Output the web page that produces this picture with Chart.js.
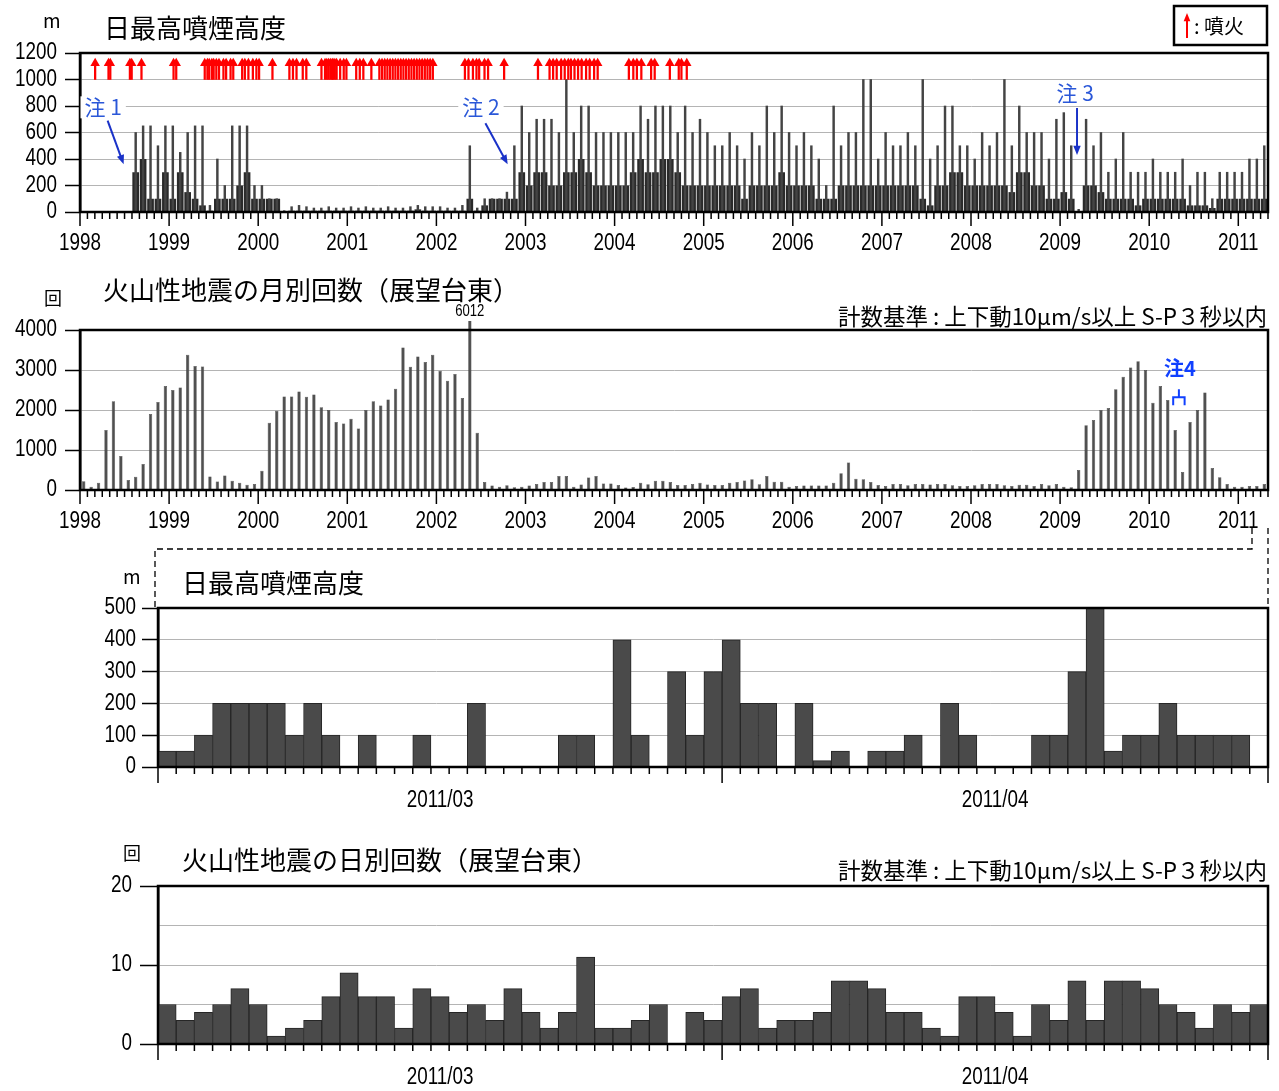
<!DOCTYPE html>
<html lang="ja">
<head>
<meta charset="UTF-8">
<title>日最高噴煙高度・火山性地震回数</title>
<script src="https://cdn.jsdelivr.net/npm/chart.js@4.4.0/dist/chart.umd.min.js"></script>
<style>
  html, body { margin: 0; padding: 0; background: #fff; }
  body { position: relative; width: 1279px; height: 1091px; overflow: hidden; }
  canvas, svg { position: absolute; left: 0; }
</style>
</head>
<body>
<canvas id="c1" width="1279" height="270" style="top:0"></canvas>
<canvas id="c2" width="1279" height="280" style="top:270px"></canvas>
<canvas id="c3" width="1279" height="280" style="top:550px"></canvas>
<canvas id="c4" width="1279" height="261" style="top:830px"></canvas>
<svg width="1279" height="1091" style="top:0;pointer-events:none">
  <g stroke="#000" stroke-width="1.3" stroke-dasharray="6 4" fill="none">
    <path d="M1252 528 V549 H155 V607"/>
    <path d="M1268 528 V607"/>
  </g>
</svg>
<script>
// ---- データ ----
const years = [1998, 1999, 2000, 2001, 2002, 2003, 2004, 2005, 2006, 2007, 2008, 2009, 2010, 2011];
const yearTicks = ['1998', '1999', '2000', '2001', '2002', '2003', '2004', '2005', '2006', '2007', '2008', '2009', '2010', '2011'];

// 日最高噴煙高度（月ごとの最大値と、密に出ている高さの目安） 1998/01〜2011/04
const plumePeak = [
  0, 0, 0, 0, 0, 0, 0, 600, 650, 650, 500, 650,
  650, 450, 600, 650, 650, 50, 400, 200, 650, 650, 650, 200,
  200, 100, 100, 10, 40, 50, 40, 30, 30, 40, 30, 30,
  40, 30, 40, 30, 30, 40, 30, 30, 40, 50, 40, 40,
  40, 30, 30, 50, 500, 30, 100, 100, 100, 150, 500, 800,
  600, 700, 700, 700, 600, 1000, 600, 800, 800, 600, 600, 600,
  600, 600, 600, 800, 700, 800, 800, 800, 600, 800, 600, 700,
  600, 500, 500, 600, 500, 400, 600, 500, 800, 600, 800, 600,
  500, 600, 500, 400, 200, 800, 500, 600, 600, 1000, 1000, 400,
  600, 500, 500, 600, 500, 1000, 400, 500, 800, 800, 500, 500,
  400, 600, 500, 600, 1000, 500, 800, 600, 600, 600, 400, 700,
  750, 500, 20, 700, 500, 600, 300, 400, 600, 300, 300, 300,
  400, 300, 300, 300, 400, 200, 300, 300, 100, 300, 300, 300,
  300, 400, 400, 500
];
const plumeBase = [
  0, 0, 0, 0, 0, 0, 0, 300, 400, 100, 100, 300,
  100, 300, 150, 100, 50, 10, 100, 100, 100, 200, 300, 100,
  100, 100, 100, 0, 10, 10, 10, 10, 10, 10, 10, 10,
  10, 10, 10, 10, 10, 10, 10, 10, 10, 20, 10, 10,
  10, 10, 10, 10, 100, 10, 50, 100, 100, 100, 100, 300,
  200, 300, 300, 200, 200, 300, 300, 400, 300, 200, 200, 200,
  200, 200, 300, 400, 300, 300, 400, 400, 300, 200, 200, 200,
  200, 200, 200, 200, 200, 100, 200, 200, 200, 200, 300, 200,
  200, 200, 200, 100, 100, 100, 200, 200, 200, 200, 200, 200,
  200, 200, 200, 200, 200, 100, 50, 200, 200, 300, 300, 200,
  200, 200, 200, 200, 200, 150, 300, 300, 200, 200, 100, 100,
  150, 100, 0, 200, 200, 150, 100, 100, 100, 100, 50, 100,
  100, 100, 100, 100, 100, 50, 50, 50, 30, 100, 100, 100,
  100, 100, 100, 100
];

// 噴火（年の小数表記）
const eruptions = [
  1998.17, 1998.32, 1998.34, 1998.56, 1998.58, 1998.69,
  1999.05, 1999.08,
  1999.40, 1999.43, 1999.45, 1999.48, 1999.50, 1999.53, 1999.56, 1999.61, 1999.64, 1999.69, 1999.72,
  1999.82, 1999.85, 1999.89, 1999.94, 1999.98, 2000.01,
  2000.16,
  2000.35, 2000.39, 2000.43, 2000.50, 2000.54,
  2000.71, 2000.75, 2000.77, 2000.79, 2000.81, 2000.83, 2000.84, 2000.86, 2000.88, 2000.92, 2000.96, 2000.99,
  2001.10, 2001.14, 2001.18, 2001.27,
  2001.36, 2001.39, 2001.42, 2001.45, 2001.48, 2001.51, 2001.54, 2001.57, 2001.60, 2001.63, 2001.66,
  2001.69, 2001.72, 2001.75, 2001.78, 2001.81, 2001.84, 2001.87, 2001.90, 2001.93, 2001.96,
  2002.32, 2002.36, 2002.41, 2002.45, 2002.48, 2002.54, 2002.58, 2002.76,
  2003.14, 2003.27, 2003.31, 2003.35, 2003.40, 2003.44, 2003.48, 2003.51, 2003.55, 2003.59, 2003.63,
  2003.68, 2003.72, 2003.77, 2003.81,
  2004.16, 2004.21, 2004.25, 2004.30, 2004.41, 2004.45, 2004.62, 2004.72, 2004.75, 2004.81
];

// 注記（年, 高さ m）
const plumeNotes = [
  { text: '注 1', x: 1998.26, y: 790, from: [1998.31, 690], to: [1998.49, 360] },
  { text: '注 2', x: 2002.50, y: 790, from: [2002.55, 670], to: [2002.80, 360] },
  { text: '注 3', x: 2009.17, y: 900, from: [2009.19, 785], to: [2009.19, 430] }
];

// 火山性地震の月別回数 1998/01〜2011/04
const quakeMonthly = [
  220, 80, 180, 1500, 2220, 850, 250, 330, 650, 1900, 2200, 2600,
  2500, 2560, 3380, 3100, 3090, 340, 210, 360, 230, 180, 130, 150,
  480, 1680, 1980, 2340, 2340, 2460, 2330, 2390, 2070, 2000, 1700, 1660,
  1780, 1540, 2000, 2220, 2110, 2260, 2530, 3560, 3080, 3340, 3200, 3380,
  2980, 2730, 2900, 2300, 6012, 1430, 200, 110, 80, 120, 70, 80,
  110, 150, 200, 200, 350, 350, 80, 140, 310, 350, 160, 160,
  125, 60, 75, 180, 145, 230, 230, 200, 125, 125, 150, 180,
  135, 125, 125, 180, 200, 240, 270, 145, 350, 205, 205, 80,
  100, 110, 110, 110, 110, 180, 420, 690, 280, 270, 200, 125,
  100, 150, 150, 120, 150, 150, 140, 150, 150, 120, 100, 100,
  120, 150, 150, 150, 120, 100, 130, 130, 100, 150, 120, 150,
  80, 70, 500, 1620, 1750, 2000, 2050, 2520, 2830, 3060, 3220, 3000,
  2180, 2600, 2250, 1500, 450, 1700, 2000, 2440, 550, 320, 150, 80,
  80, 100, 100, 150
];
const note4Months = ['2010/04', '2010/05'];

// 2011/03/01〜2011/04/30
const dayMonths = ['2011/03', '2011/04'];
const dayMonthLengths = [31, 30];
const plumeDaily = [
  50, 50, 100, 200, 200, 200, 200, 100, 200, 100,
  0, 100, 0, 0, 100, 0, 0, 200, 0, 0,
  0, 0, 100, 100, 0, 400, 100, 0, 300, 100,
  300,
  400, 200, 200, 0, 200, 20, 50, 0, 50, 50,
  100, 0, 200, 100, 0, 0, 0, 100, 100, 300,
  500, 50, 100, 100, 200, 100, 100, 100, 100, 0
];
const quakeDaily = [
  5, 3, 4, 5, 7, 5, 1, 2, 3, 6,
  9, 6, 6, 2, 7, 6, 4, 5, 3, 7,
  4, 2, 4, 11, 2, 2, 3, 5, 0, 4,
  3,
  6, 7, 2, 3, 3, 4, 8, 8, 7, 4,
  4, 2, 1, 6, 6, 4, 1, 5, 3, 8,
  3, 8, 8, 7, 5, 4, 2, 5, 4, 5
];

// ---- ラベル ----
const monthLabels = [];
years.forEach(y => {
  for (let m = 1; m <= 12; m++) {
    if (monthLabels.length < plumePeak.length) monthLabels.push(y + '/' + String(m).padStart(2, '0'));
  }
});
const dayLabels = [];
dayMonths.forEach((mo, k) => {
  for (let d = 1; d <= dayMonthLengths[k]; d++) dayLabels.push(mo + '/' + String(d).padStart(2, '0'));
});

// ---- 共通 ----
const CJK = '"Noto Sans CJK JP", "Noto Sans", sans-serif';
const NUM = '"Liberation Sans", Arial, sans-serif';
const BLUE = '#2a57d8';
const CRITERIA = '計数基準 : 上下動10μm/s以上 S-P３秒以内';

// 細い数字（横方向に縮めて描く）
function narrowText(ctx, text, x, y, size, align) {
  ctx.save();
  ctx.font = size + 'px ' + NUM;
  ctx.fillStyle = '#000';
  ctx.textBaseline = 'middle';
  ctx.textAlign = align;
  ctx.translate(x, y);
  ctx.scale(0.82, 1);
  ctx.fillText(text, 0, 0);
  ctx.restore();
}

function yAxis(max, step, width, tickLen, labelEvery) {
  return {
    min: 0, max: max,
    ticks: { stepSize: step, display: false, autoSkip: false },
    grid: {
      color: '#b4b4b4', lineWidth: 1, tickLength: tickLen, tickWidth: 1.5,
      tickColor: c => (labelEvery && c.tick && c.tick.value % labelEvery !== 0) ? 'rgba(0,0,0,0)' : '#000'
    },
    border: { display: true, color: '#000', width: 2.5 },
    afterFit(s) { s.width = width; }
  };
}

function baseOptions(padding, scales) {
  return {
    responsive: false,
    animation: false,
    events: [],
    layout: { padding: padding },
    plugins: { legend: { display: false }, tooltip: { enabled: false } },
    scales: scales
  };
}

// 枠線
const framePlugin = {
  id: 'frame',
  afterDatasetsDraw(chart) {
    const { ctx, chartArea: a } = chart;
    ctx.save();
    ctx.strokeStyle = '#000';
    ctx.lineWidth = 2.5;
    ctx.strokeRect(a.left, a.top, a.right - a.left, a.bottom - a.top);
    ctx.restore();
  }
};

// y 軸ラベル
function yLabelPlugin(rightX, labelEvery) {
  return {
    id: 'yLabels',
    afterDraw(chart) {
      const y = chart.scales.y;
      y.ticks.forEach(t => {
        if (labelEvery && t.value % labelEvery !== 0) return;
        narrowText(chart.ctx, String(t.value), rightX, y.getPixelForValue(t.value), 23, 'right');
      });
    }
  };
}

// x 軸の目盛とラベル（カテゴリ境界に描く）
function timeAxisPlugin(n, majors, minorLen, majorLen, labels, labelDy) {
  return {
    id: 'timeAxis',
    afterDraw(chart) {
      const { ctx, chartArea: a } = chart;
      const x = chart.scales.x;
      const edge = i => x.getPixelForValue(i - 0.5);
      ctx.save();
      ctx.strokeStyle = '#000';
      ctx.lineWidth = 1.5;
      for (let i = 0; i <= n; i++) {
        const px = edge(i);
        const len = majors.includes(i) ? majorLen : minorLen;
        ctx.beginPath();
        ctx.moveTo(px, a.bottom);
        ctx.lineTo(px, a.bottom + len);
        ctx.stroke();
      }
      ctx.restore();
      labels.forEach(l => {
        const px = l.to === undefined ? edge(l.at) : (edge(l.at) + edge(l.to)) / 2;
        narrowText(ctx, l.text, px, a.bottom + labelDy, 23, 'center');
      });
    }
  };
}

function textPlugin(items) {
  return {
    id: 'texts',
    afterDraw(chart) {
      const ctx = chart.ctx;
      ctx.save();
      items.forEach(t => {
        ctx.font = t.font;
        ctx.fillStyle = t.color || '#000';
        ctx.textAlign = t.align || 'left';
        ctx.textBaseline = 'middle';
        ctx.fillText(t.text, t.x, t.y);
      });
      ctx.restore();
    }
  };
}

function drawArrow(ctx, x1, y1, x2, y2, head, color, lw) {
  const ang = Math.atan2(y2 - y1, x2 - x1);
  ctx.strokeStyle = color;
  ctx.fillStyle = color;
  ctx.lineWidth = lw;
  ctx.beginPath();
  ctx.moveTo(x1, y1);
  ctx.lineTo(x2 - Math.cos(ang) * head * 0.8, y2 - Math.sin(ang) * head * 0.8);
  ctx.stroke();
  ctx.beginPath();
  ctx.moveTo(x2, y2);
  ctx.lineTo(x2 - head * Math.cos(ang - 0.38), y2 - head * Math.sin(ang - 0.38));
  ctx.lineTo(x2 - head * Math.cos(ang + 0.38), y2 - head * Math.sin(ang + 0.38));
  ctx.closePath();
  ctx.fill();
}

const yearMajors = years.map((y, i) => i * 12);
const yearLabelItems = yearTicks.map((t, i) => ({ text: t, at: i * 12 }));

// ---- 1. 日最高噴煙高度（長期） ----
const notes1Plugin = {
  id: 'notes1',
  afterDraw(chart) {
    const { ctx } = chart;
    const xe = chart.scales.xe, y = chart.scales.y;
    ctx.save();
    ctx.font = '21px ' + CJK;
    ctx.textAlign = 'center';
    ctx.textBaseline = 'middle';
    plumeNotes.forEach(n => {
      const px = xe.getPixelForValue(n.x), py = y.getPixelForValue(n.y);
      const w = ctx.measureText(n.text).width + 8;
      ctx.fillStyle = '#fff';
      ctx.fillRect(px - w / 2, py - 11, w, 22);
      ctx.fillStyle = BLUE;
      ctx.fillText(n.text, px, py);
      drawArrow(ctx, xe.getPixelForValue(n.from[0]), y.getPixelForValue(n.from[1]),
        xe.getPixelForValue(n.to[0]), y.getPixelForValue(n.to[1]), 10, '#1a32c8', 2);
    });
    // 凡例
    ctx.lineWidth = 2.5;
    ctx.strokeStyle = '#000';
    ctx.fillStyle = '#fff';
    ctx.fillRect(1174, 6, 93, 39);
    ctx.strokeRect(1174, 6, 93, 39);
    drawArrow(ctx, 1187, 38, 1187, 13, 9, '#ff0000', 2);
    ctx.fillStyle = '#000';
    ctx.textAlign = 'left';
    ctx.font = '20px ' + CJK;
    ctx.fillText(': 噴火', 1194, 26);
    ctx.restore();
  }
};

new Chart(document.getElementById('c1'), {
  type: 'bar',
  data: {
    labels: monthLabels,
    datasets: [
      { label: 'base', data: plumeBase, backgroundColor: '#2a2a2a', barPercentage: 0.9, categoryPercentage: 1, grouped: false, order: 3 },
      { label: 'peak', data: plumePeak, backgroundColor: '#444', barThickness: 1.8, grouped: false, order: 2 },
      { label: '噴火', data: eruptions.map(d => ({ x: d, y: [1000, 1122] })), xAxisID: 'xe',
        backgroundColor: '#ff0000', barThickness: 1.6, grouped: false, order: 1 },
      { type: 'scatter', label: '噴火矢印', data: eruptions.map(d => ({ x: d, y: 1122 })), xAxisID: 'xe',
        pointStyle: 'triangle', radius: 5.5, backgroundColor: '#ff0000', borderColor: '#ff0000', borderWidth: 0, order: 0 }
    ]
  },
  options: baseOptions({ top: 53, bottom: 58, left: 0, right: 11 }, {
    x: { display: false, offset: true },
    xe: { type: 'linear', display: false, min: years[0], max: years[0] + plumePeak.length / 12, offset: false },
    y: yAxis(1200, 200, 80, 15)
  }),
  plugins: [
    framePlugin,
    yLabelPlugin(57),
    timeAxisPlugin(plumePeak.length, yearMajors, 7, 14, yearLabelItems, 32),
    notes1Plugin,
    textPlugin([
      { text: 'm', x: 43, y: 21, font: '19px ' + CJK },
      { text: '日最高噴煙高度', x: 104, y: 28, font: '26px ' + CJK }
    ])
  ]
});

// ---- 2. 火山性地震の月別回数 ----
const notes2Plugin = {
  id: 'notes2',
  afterDraw(chart) {
    const { ctx } = chart;
    const x = chart.scales.x, y = chart.scales.y;
    // 上限を超えた値
    const maxV = Math.max(...quakeMonthly);
    const iMax = quakeMonthly.indexOf(maxV);
    narrowText(ctx, String(maxV), x.getPixelForValue(iMax), chart.chartArea.top - 18, 16, 'center');
    // 注4
    ctx.save();
    const i0 = monthLabels.indexOf(note4Months[0]), i1 = monthLabels.indexOf(note4Months[1]);
    const xl = x.getPixelForValue(i0) - 2, xr = x.getPixelForValue(i1) + 2;
    const yTop = y.getPixelForValue(2320), yEnd = y.getPixelForValue(2120);
    ctx.strokeStyle = '#1040ff';
    ctx.lineWidth = 2;
    ctx.beginPath();
    ctx.moveTo(xl, yEnd); ctx.lineTo(xl, yTop); ctx.lineTo(xr, yTop); ctx.lineTo(xr, yEnd);
    ctx.moveTo((xl + xr) / 2, yTop); ctx.lineTo((xl + xr) / 2, yTop - 8);
    ctx.stroke();
    ctx.fillStyle = '#1040ff';
    ctx.font = 'bold 20px ' + CJK;
    ctx.textAlign = 'center';
    ctx.textBaseline = 'middle';
    ctx.fillText('注4', (xl + xr) / 2 + 1, y.getPixelForValue(3030));
    ctx.restore();
  }
};

new Chart(document.getElementById('c2'), {
  type: 'bar',
  data: {
    labels: monthLabels,
    datasets: [
      { label: '月別回数', data: quakeMonthly, backgroundColor: '#505050', borderColor: '#333', borderWidth: 0.5,
        barPercentage: 0.45, categoryPercentage: 1, clip: { left: 0, top: 9, right: 0, bottom: 0 } }
    ]
  },
  options: baseOptions({ top: 60, bottom: 60, left: 0, right: 11 }, {
    x: { display: false, offset: true },
    y: yAxis(4000, 1000, 80, 15)
  }),
  plugins: [
    framePlugin,
    yLabelPlugin(57),
    timeAxisPlugin(quakeMonthly.length, yearMajors, 7, 14, yearLabelItems, 32),
    notes2Plugin,
    textPlugin([
      { text: '回', x: 44, y: 28, font: '18px ' + CJK },
      { text: '火山性地震の月別回数（展望台東）', x: 103, y: 20, font: '26px ' + CJK },
      { text: CRITERIA, x: 1267, y: 46, font: '22.5px ' + CJK, align: 'right' }
    ])
  ]
});

// ---- 3. 日最高噴煙高度（2011/03〜04） ----
const dayMajors = [0, dayMonthLengths[0], dayMonthLengths[0] + dayMonthLengths[1]];
const dayLabelItems = dayMonths.map((t, k) => ({ text: t, at: dayMajors[k], to: dayMajors[k + 1] }));

new Chart(document.getElementById('c3'), {
  type: 'bar',
  data: {
    labels: dayLabels,
    datasets: [
      { label: '日最高噴煙高度', data: plumeDaily, backgroundColor: '#4a4a4a', borderColor: '#262626', borderWidth: 1,
        barPercentage: 1, categoryPercentage: 1 }
    ]
  },
  options: baseOptions({ top: 58, bottom: 63, left: 0, right: 11 }, {
    x: { display: false, offset: true },
    y: yAxis(500, 100, 158, 16)
  }),
  plugins: [
    framePlugin,
    yLabelPlugin(136),
    timeAxisPlugin(plumeDaily.length, dayMajors, 7, 16, dayLabelItems, 34),
    textPlugin([
      { text: 'm', x: 123, y: 27, font: '19px ' + CJK },
      { text: '日最高噴煙高度', x: 182, y: 33, font: '26px ' + CJK }
    ])
  ]
});

// ---- 4. 火山性地震の日別回数 ----
new Chart(document.getElementById('c4'), {
  type: 'bar',
  data: {
    labels: dayLabels,
    datasets: [
      { label: '日別回数', data: quakeDaily, backgroundColor: '#4a4a4a', borderColor: '#262626', borderWidth: 1,
        barPercentage: 1, categoryPercentage: 1 }
    ]
  },
  options: baseOptions({ top: 56, bottom: 47, left: 0, right: 11 }, {
    x: { display: false, offset: true },
    y: yAxis(20, 5, 158, 18, 10)
  }),
  plugins: [
    framePlugin,
    yLabelPlugin(132, 10),
    timeAxisPlugin(quakeDaily.length, dayMajors, 7, 16, dayLabelItems, 34),
    textPlugin([
      { text: '回', x: 123, y: 23, font: '18px ' + CJK },
      { text: '火山性地震の日別回数（展望台東）', x: 182, y: 30, font: '26px ' + CJK },
      { text: CRITERIA, x: 1267, y: 40, font: '22.5px ' + CJK, align: 'right' }
    ])
  ]
});
</script>
</body>
</html>
